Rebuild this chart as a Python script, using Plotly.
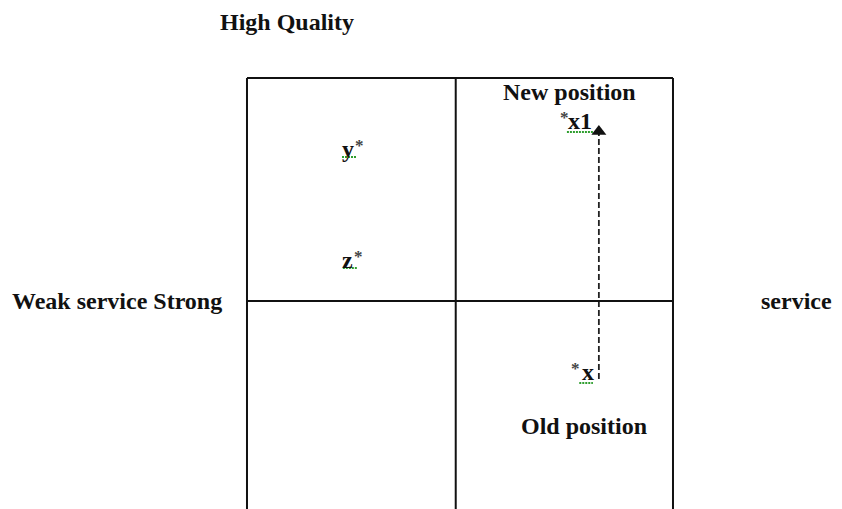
import plotly.graph_objects as go

# Perceptual map: service score (x) vs quality score (y), map from 0 to 10
box_x = [0, 10]
box_y = [0, 10]
mid_x = 4.9
mid_y = 5.0

# brand labels: letter part, and which side the small "*" sits on
brand_letters = ["y", "z", "x1", "x"]
brand_star_side = ["right", "right", "left", "left"]
brand_service = [2.38, 2.37, 7.82, 8.00]
brand_quality = [8.41, 5.92, 9.04, 3.41]

# spell-check style green underline under each brand letter (start, end in service units)
under_start = [2.23, 2.25, 7.51, 7.80]
under_end = [2.56, 2.58, 8.12, 8.12]
under_quality = [8.23, 5.74, 8.79, 3.16]

move_service = [8.26, 8.26]
move_quality = [3.25, 8.80]

note_labels = ["New position", "Old position"]
note_service = [7.58, 7.91]
note_quality = [9.69, 2.20]

axis_labels = ["High Quality", "Weak service Strong", "service"]
axis_service = [0.94, -3.05, 12.91]
axis_quality = [11.26, 5.0, 5.0]

FONT = dict(family="Liberation Serif, Times New Roman, serif", size=24, color="#111111")
STAR_FONT = dict(family="Liberation Serif, Times New Roman, serif", size=17, color="#444444")

fig = go.Figure()

# green squiggle underlines
for xs, xe, qy in zip(under_start, under_end, under_quality):
    fig.add_trace(go.Scatter(x=[xs, xe], y=[qy, qy], mode="lines",
                             line=dict(color="#2e9e2e", width=2, dash="2px,1px"),
                             hoverinfo="skip", showlegend=False))

# dashed movement line
fig.add_trace(go.Scatter(x=move_service, y=move_quality, mode="lines",
                         line=dict(color="#222222", width=1.8, dash="6px,3px"),
                         hoverinfo="skip", showlegend=False))
# arrowhead
fig.add_trace(go.Scatter(x=[move_service[-1]], y=[move_quality[-1]], mode="markers",
                         marker=dict(symbol="triangle-up", size=13, color="#111111"),
                         hoverinfo="skip", showlegend=False))

for lab, side, sx, qy in zip(brand_letters, brand_star_side, brand_service, brand_quality):
    fig.add_annotation(x=sx, y=qy, text="<b>%s</b>" % lab, showarrow=False,
                       font=FONT, xanchor="center", yanchor="middle")
    half = 3.5 * len(lab) + 3.5
    fig.add_annotation(x=sx, y=qy, text="<b>*</b>", showarrow=False, font=STAR_FONT,
                       xanchor="center", yanchor="middle",
                       xshift=(half + 4) if side == "right" else -(half + 5),
                       yshift=3)

for lab, sx, qy in zip(note_labels + axis_labels,
                       note_service + axis_service,
                       note_quality + axis_quality):
    fig.add_annotation(x=sx, y=qy, text="<b>%s</b>" % lab, showarrow=False,
                       font=FONT, xanchor="center", yanchor="middle")

line = dict(color="#111111", width=2)
# outer box (bottom extends beyond view)
fig.add_shape(type="line", x0=box_x[0], x1=box_x[1], y0=box_y[1], y1=box_y[1], line=line)
fig.add_shape(type="line", x0=box_x[0], x1=box_x[0], y0=box_y[0], y1=box_y[1], line=line)
fig.add_shape(type="line", x0=box_x[1], x1=box_x[1], y0=box_y[0], y1=box_y[1], line=line)
fig.add_shape(type="line", x0=box_x[0], x1=box_x[1], y0=box_y[0], y1=box_y[0], line=line)
# quadrant dividers
fig.add_shape(type="line", x0=mid_x, x1=mid_x, y0=box_y[0], y1=box_y[1], line=line)
fig.add_shape(type="line", x0=box_x[0], x1=box_x[1], y0=mid_y, y1=mid_y, line=line)

fig.update_xaxes(range=[-5.610, 14.155], visible=False, fixedrange=True)
fig.update_yaxes(range=[0.157, 11.570], visible=False, fixedrange=True)
fig.update_layout(width=842, height=509, autosize=False,
                  margin=dict(l=0, r=0, t=0, b=0),
                  plot_bgcolor="white", paper_bgcolor="white",
                  showlegend=False)

fig.write_html("out.html", config={"displayModeBar": False})
